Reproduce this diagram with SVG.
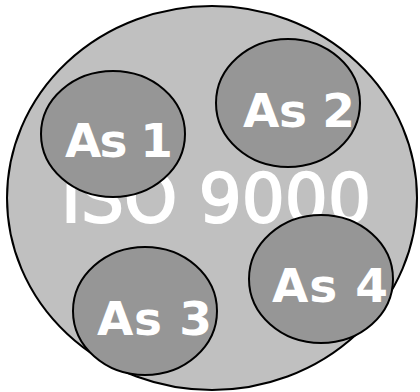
<svg xmlns="http://www.w3.org/2000/svg" width="420" height="392" viewBox="0 0 420 392">
<style>
.big{fill:#c0c0c0;stroke:#000;stroke-width:2}
.sub{fill:#969696;stroke:#000;stroke-width:2}
.lbl{fill:#fff;font-family:"DejaVu Sans",sans-serif;font-weight:bold;font-size:47px}
.iso{fill:#fff;stroke:#fff;stroke-width:2;font-family:"DejaVu Sans",sans-serif;font-size:68px}
</style>
<g id="iso9000">
<ellipse class="big" cx="212" cy="198" rx="205" ry="192"/>
<text class="iso" x="61" y="222" textLength="310" lengthAdjust="spacingAndGlyphs">ISO 9000</text>
</g>
<g id="as1">
<ellipse class="sub" cx="113" cy="134" rx="72" ry="63"/>
<text class="lbl" x="65" y="157" textLength="108" lengthAdjust="spacing">As 1</text>
</g>
<g id="as2">
<ellipse class="sub" cx="288" cy="103" rx="72" ry="64"/>
<text class="lbl" x="243" y="127" textLength="112" lengthAdjust="spacing">As 2</text>
</g>
<g id="as3">
<ellipse class="sub" cx="145" cy="311" rx="72" ry="64"/>
<text class="lbl" x="97" y="335" textLength="115" lengthAdjust="spacing">As 3</text>
</g>
<g id="as4">
<ellipse class="sub" cx="321" cy="279" rx="72" ry="64"/>
<text class="lbl" x="272" y="302" textLength="116" lengthAdjust="spacing">As 4</text>
</g>
<g id="connectors"/>
</svg>
